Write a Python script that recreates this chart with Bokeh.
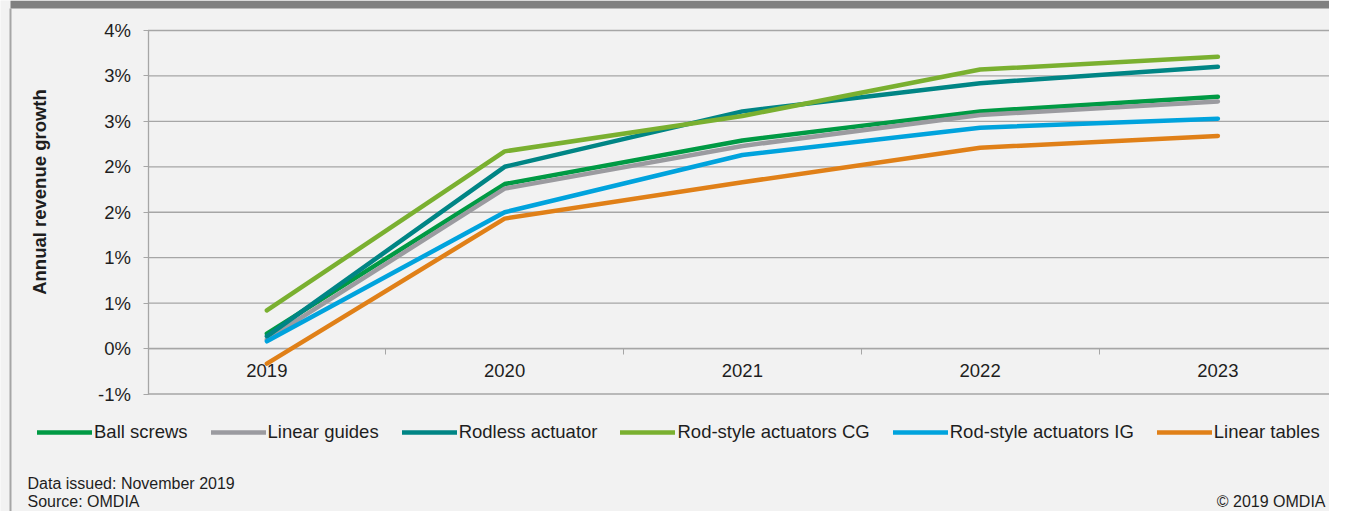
from math import pi
from bokeh.plotting import figure
from bokeh.models import (Range1d, FixedTicker, Legend, LegendItem, Label,
                          BoxAnnotation)
from bokeh.embed import file_html
from bokeh.resources import INLINE

# ---------------- data ----------------
years = ["2019", "2020", "2021", "2022", "2023"]

ball_screws = [0.165, 1.81, 2.29, 2.61, 2.77]
linear_guides = [0.10, 1.76, 2.23, 2.57, 2.72]
rodless_actuator = [0.135, 2.00, 2.61, 2.92, 3.10]
rod_style_cg = [0.42, 2.17, 2.56, 3.07, 3.21]
rod_style_ig = [0.08, 1.50, 2.13, 2.43, 2.53]
linear_tables = [-0.165, 1.43, 1.83, 2.21, 2.34]

series_names = ["Ball screws", "Linear guides", "Rodless actuator",
                "Rod-style actuators CG", "Rod-style actuators IG", "Linear tables"]
series_values = [ball_screws, linear_guides, rodless_actuator,
                 rod_style_cg, rod_style_ig, linear_tables]
series_colors = ["#009a44", "#9b9ba0", "#008585", "#7ab030", "#00a3dd", "#e08018"]

y_ticks = [-0.5, 0.0, 0.5, 1.0, 1.5, 2.0, 2.5, 3.0, 3.5]
y_tick_labels = ["-1%", "0%", "1%", "1%", "2%", "2%", "3%", "3%", "4%"]

y_title = "Annual revenue growth"
note_issued = "Data issued: November 2019"
note_source = "Source: OMDIA"
note_copy = "\u00a9 2019 OMDIA"

# ---------------- layout / style ----------------
W, H = 1329, 511
BG = "#f2f2f2"
GRID = "#a6a6a6"
TXT = "#1e1e1e"
FONT = "Liberation Sans"
FS = "18.5px"

# pixel geometry of the plotting area
PX_LEFT, CAT_W = 147.5, 237.75          # x=0 boundary and width of one year
PX_TOP, PX_BOT = 30.0, 393.5            # pixel rows of top and bottom tick
y_lo, y_hi = y_ticks[0], y_ticks[-1]
PPU = (PX_BOT - PX_TOP) / (y_hi - y_lo)

x_start = -PX_LEFT / CAT_W
x_end = (W - PX_LEFT) / CAT_W
y_end = y_hi + PX_TOP / PPU
y_start = y_lo - (H - PX_BOT) / PPU


def xpx(px):
    return x_start + px / CAT_W


def ypx(py):
    return y_end - py / PPU


x_pos = [i + 0.5 for i in range(len(years))]
x_bounds = list(range(len(years) + 1))

p = figure(width=W, height=H, output_backend="svg", toolbar_location=None,
           x_range=Range1d(x_start, x_end), y_range=Range1d(y_start, y_end),
           min_border=0)
p.background_fill_color = BG
p.border_fill_color = BG
p.outline_line_color = None
p.xgrid.visible = False
p.ygrid.visible = False

# frame decoration (grey header bar and left border)
p.add_layout(BoxAnnotation(left=xpx(10), bottom=ypx(8), fill_color="#808080",
                           fill_alpha=1, line_color=None, level="underlay"))
p.add_layout(BoxAnnotation(left=xpx(9), right=xpx(11), top=ypx(8),
                           fill_color="#a6a6a6", fill_alpha=1, line_color=None,
                           level="underlay"))

# horizontal grid lines at the y ticks, spanning the year bands
p.segment(x0=0, x1=len(years), y0=y_ticks, y1=y_ticks, line_color=GRID,
          line_width=1.3)

xa = p.xaxis[0]
xa.fixed_location = 0
xa.bounds = (0, len(years))
xa.ticker = FixedTicker(ticks=x_pos, minor_ticks=x_bounds)
xa.major_label_overrides = {x: y for x, y in zip(x_pos, years)}
xa.major_tick_out = 0
xa.major_tick_in = 0
xa.minor_tick_out = 6
xa.minor_tick_in = 0
xa.minor_tick_line_color = GRID
xa.axis_line_color = GRID
xa.axis_line_width = 1.3
xa.major_label_standoff = 9
xa.major_label_text_font = FONT
xa.major_label_text_font_size = FS
xa.major_label_text_color = TXT
xa.level = "underlay"

ya = p.yaxis[0]
ya.fixed_location = 0
ya.bounds = (y_lo, y_hi)
ya.ticker = FixedTicker(ticks=y_ticks)
ya.major_label_overrides = {v: t for v, t in zip(y_ticks, y_tick_labels)}
ya.major_tick_out = 5
ya.major_tick_in = 0
ya.minor_tick_out = 0
ya.minor_tick_in = 0
ya.major_tick_line_color = GRID
ya.axis_line_color = GRID
ya.axis_line_width = 1.3
ya.major_label_standoff = 12
ya.major_label_text_font = FONT
ya.major_label_text_font_size = FS
ya.major_label_text_color = TXT
ya.level = "underlay"

items = []
for name, vals, col in zip(series_names, series_values, series_colors):
    r = p.line(x=x_pos, y=vals, line_width=4.5, line_color=col,
               line_cap="round", line_join="round")
    items.append(LegendItem(label=name, renderers=[r]))

legend = Legend(items=items, orientation="horizontal", location=(37, H - 443),
                padding=0, margin=0, spacing=23, glyph_width=55, glyph_height=20,
                label_height=20, label_standoff=2, border_line_color=None,
                background_fill_alpha=0, label_text_font=FONT,
                label_text_font_size=FS, label_text_color=TXT)
p.add_layout(legend)

p.add_layout(Label(x=38.5, y=H - 191.5, x_units="screen", y_units="screen",
                   text=y_title, angle=pi / 2, text_align="center",
                   text_baseline="middle", text_font=FONT, text_font_size=FS,
                   text_font_style="bold", text_color=TXT))
for txt, xx, bottom, al in [(note_issued, 27, 491, "left"),
                            (note_source, 27, 509, "left"),
                            (note_copy, W - 4, 509, "right")]:
    p.add_layout(Label(x=xx, y=H - bottom, x_units="screen", y_units="screen",
                       text=txt, text_align=al, text_baseline="bottom",
                       text_font=FONT, text_font_size="16px", text_color=TXT))

open("out.html", "w").write(file_html(p, INLINE))
